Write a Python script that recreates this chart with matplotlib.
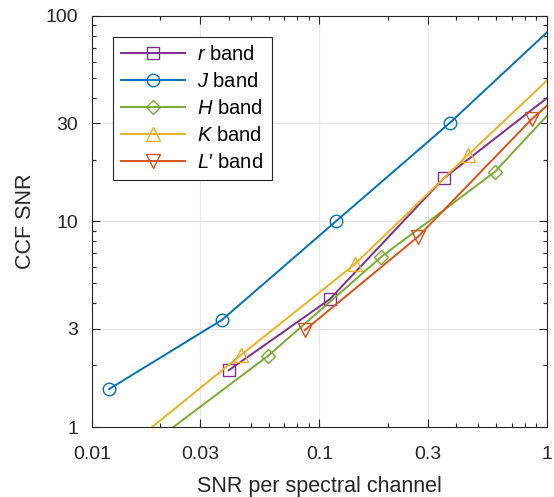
import matplotlib
matplotlib.use("Agg")
import matplotlib.pyplot as plt
from matplotlib.ticker import FixedLocator, FixedFormatter, NullFormatter, LogLocator

plt.rcParams['font.family'] = ['Liberation Sans', 'DejaVu Sans']
plt.rcParams['mathtext.fontset'] = 'custom'
plt.rcParams['mathtext.it'] = 'Liberation Sans:italic'
plt.rcParams['mathtext.rm'] = 'Liberation Sans'

# data (first/last points are unmarked line ends)
r_x = [0.040, 0.111, 0.352, 1.0]
r_y = [1.89, 4.18, 16.2, 39.8]
j_x = [0.0119, 0.0373, 0.118, 0.375, 1.0]
j_y = [1.53, 3.32, 10.0, 30.2, 83.0]
h_x = [0.0228, 0.0595, 0.1875, 0.59, 1.0]
h_y = [1.0, 2.22, 6.74, 17.4, 32.6]
k_x = [0.0184, 0.0452, 0.143, 0.451, 1.0]
k_y = [1.0, 2.24, 6.19, 21.1, 48.4]
l_x = [0.0863, 0.272, 0.857, 1.0]
l_y = [2.96, 8.44, 31.4, 36.5]

x_ticks = [0.01, 0.03, 0.1, 0.3, 1]
x_labels = ['0.01', '0.03', '0.1', '0.3', '1']
y_ticks = [1, 3, 10, 30, 100]
y_labels = ['1', '3', '10', '30', '100']

fig = plt.figure(figsize=(5.54, 4.97), dpi=100)
ax = fig.add_axes([0.166, 0.1408, 0.821, 0.8272])

ms = 8
ax.plot(r_x, r_y, '-s', color='#7E2F8E', mfc='none', ms=ms, lw=1.4, markevery=[0, 1, 2],
        label='$r$ band', zorder=3)
ax.plot(j_x, j_y, '-o', color='#0072BD', mfc='none', ms=ms + 1, lw=1.4, markevery=[0, 1, 2, 3],
        label='$J$ band', zorder=3)
ax.plot(h_x, h_y, '-D', color='#77AC30', mfc='none', ms=ms - 0.5, lw=1.4, markevery=[1, 2, 3],
        label='$H$ band', zorder=3)
ax.plot(k_x, k_y, '-^', color='#EDB120', mfc='none', ms=ms + 2, lw=1.4, markevery=[1, 2, 3],
        label='$K$ band', zorder=3)
ax.plot(l_x, l_y, '-v', color='#D95319', mfc='none', ms=ms + 2, lw=1.4, markevery=[0, 1, 2],
        label='$L\u2032$ band', zorder=3)

ax.set_xscale('log')
ax.set_yscale('log')
ax.set_xlim(0.01, 1)
ax.set_ylim(1, 100)

ax.xaxis.set_major_locator(FixedLocator(x_ticks))
ax.xaxis.set_major_formatter(FixedFormatter(x_labels))
ax.yaxis.set_major_locator(FixedLocator(y_ticks))
ax.yaxis.set_major_formatter(FixedFormatter(y_labels))
ax.xaxis.set_minor_locator(LogLocator(base=10, subs=range(2, 10)))
ax.yaxis.set_minor_locator(LogLocator(base=10, subs=range(2, 10)))
ax.xaxis.set_minor_formatter(NullFormatter())
ax.yaxis.set_minor_formatter(NullFormatter())

ax.tick_params(which='both', direction='in', top=True, right=True, colors='#262626',
               labelsize=14, width=0.8)
ax.tick_params(which='major', length=6)
ax.tick_params(which='minor', length=3)
ax.tick_params(axis='x', which='major', pad=14)
ax.tick_params(axis='y', which='major', pad=10)
ax.grid(True, which='major', color='#e6e6e6', lw=0.8, zorder=0)
for s in ax.spines.values():
    s.set_color('#262626')
    s.set_linewidth(0.8)

ax.set_xlabel('SNR per spectral channel', fontsize=15.5, color='#262626', labelpad=9)
ax.set_ylabel('CCF SNR', fontsize=15.5, color='#262626', labelpad=7)

leg = ax.legend(loc='upper left', bbox_to_anchor=(0.046, 0.949), fontsize=14.5,
                fancybox=False, edgecolor='#262626', framealpha=1, handlelength=3.2,
                borderpad=0.4, labelspacing=0.4, handletextpad=0.6, borderaxespad=0)
leg.get_frame().set_linewidth(0.8)

fig.savefig('out.png', dpi=100)
